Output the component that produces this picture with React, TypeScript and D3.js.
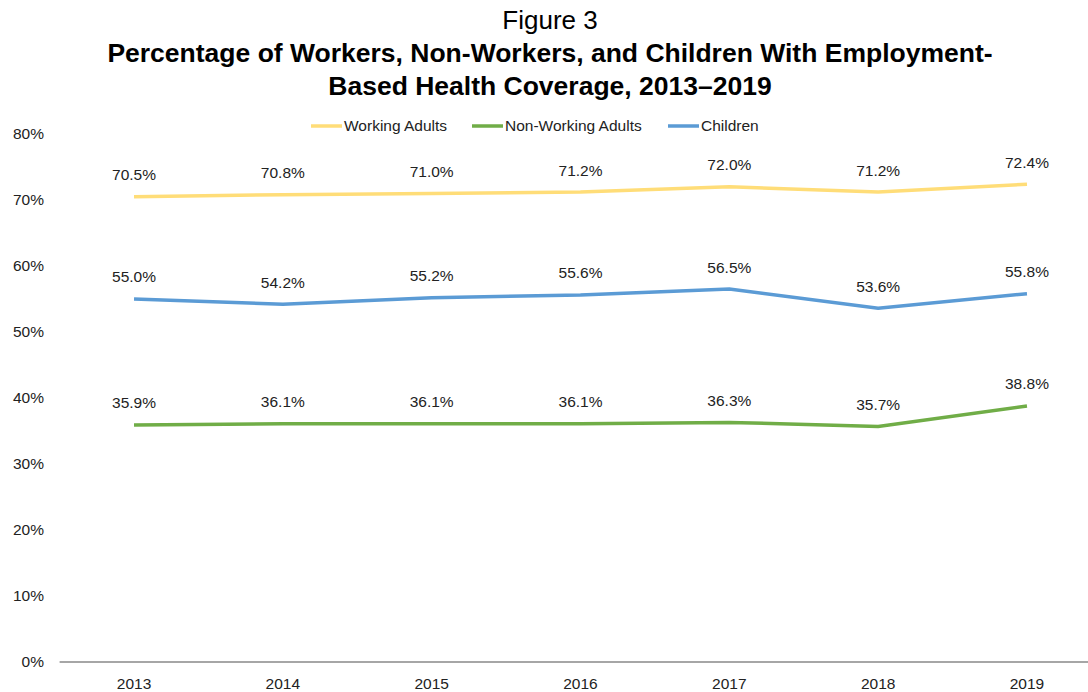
import React from "react";
import * as d3 from "d3";

const years = ["2013", "2014", "2015", "2016", "2017", "2018", "2019"];
const workingAdults = [70.5, 70.8, 71.0, 71.2, 72.0, 71.2, 72.4];
const nonWorkingAdults = [35.9, 36.1, 36.1, 36.1, 36.3, 35.7, 38.8];
const children = [55.0, 54.2, 55.2, 55.6, 56.5, 53.6, 55.8];
const yTicks = [0, 10, 20, 30, 40, 50, 60, 70, 80];

const series = [
  { name: "Working Adults", values: workingAdults, color: "#FFDD78" },
  { name: "Non-Working Adults", values: nonWorkingAdults, color: "#70AD47" },
  { name: "Children", values: children, color: "#5B9BD5" },
];

const W = 1088;
const H = 692;
const font = "Liberation Sans, Arial, sans-serif";

export default function App() {
  const x = d3.scaleBand<string>().domain(years).range([59.6, 1101.4]);
  const y = d3.scaleLinear().domain([0, 80]).range([662, 134]);
  const cx = (d: string) => (x(d) as number) + x.bandwidth() / 2;
  const line = d3
    .line<number>()
    .x((_, i) => cx(years[i]))
    .y((v) => y(v));

  const legendItems = [
    { x: 311, ...series[0] },
    { x: 472, ...series[1] },
    { x: 668, ...series[2] },
  ];

  return (
    <svg
      width={W}
      height={H}
      style={{ position: "absolute", left: 0, top: 0, background: "#fff" }}
      fontFamily={font}
    >
      <text x={550} y={29} textAnchor="middle" fontSize={26} fill="#000">
        Figure 3
      </text>
      <text x={550} y={62} textAnchor="middle" fontSize={26.5} fontWeight="bold" fill="#000">
        Percentage of Workers, Non-Workers, and Children With Employment-
      </text>
      <text x={550} y={95} textAnchor="middle" fontSize={26.5} fontWeight="bold" fill="#000">
        Based Health Coverage, 2013–2019
      </text>

      {legendItems.map((l) => (
        <g key={l.name}>
          <line x1={l.x} x2={l.x + 31} y1={126} y2={126} stroke={l.color} strokeWidth={3.5} />
          <text x={l.x + 33} y={126} dy="0.35em" fontSize={15.5} fill="#222">
            {l.name}
          </text>
        </g>
      ))}

      {yTicks.map((t) => (
        <text key={t} x={44} y={y(t)} dy="0.35em" textAnchor="end" fontSize={15.5} fill="#222">
          {t}%
        </text>
      ))}

      <line x1={59.6} x2={1101} y1={662} y2={662} stroke="#898989" strokeWidth={1.5} />

      {years.map((yr) => (
        <text key={yr} x={cx(yr)} y={684} dy="0.35em" textAnchor="middle" fontSize={15.5} fill="#222">
          {yr}
        </text>
      ))}

      {series.map((s) => (
        <g key={s.name}>
          <path d={line(s.values) || ""} fill="none" stroke={s.color} strokeWidth={3.5} />
          {s.values.map((v, i) => (
            <text
              key={i}
              x={cx(years[i])}
              y={y(v) - 22}
              dy="0.35em"
              textAnchor="middle"
              fontSize={15.5}
              fill="#222"
            >
              {v.toFixed(1)}%
            </text>
          ))}
        </g>
      ))}
    </svg>
  );
}
